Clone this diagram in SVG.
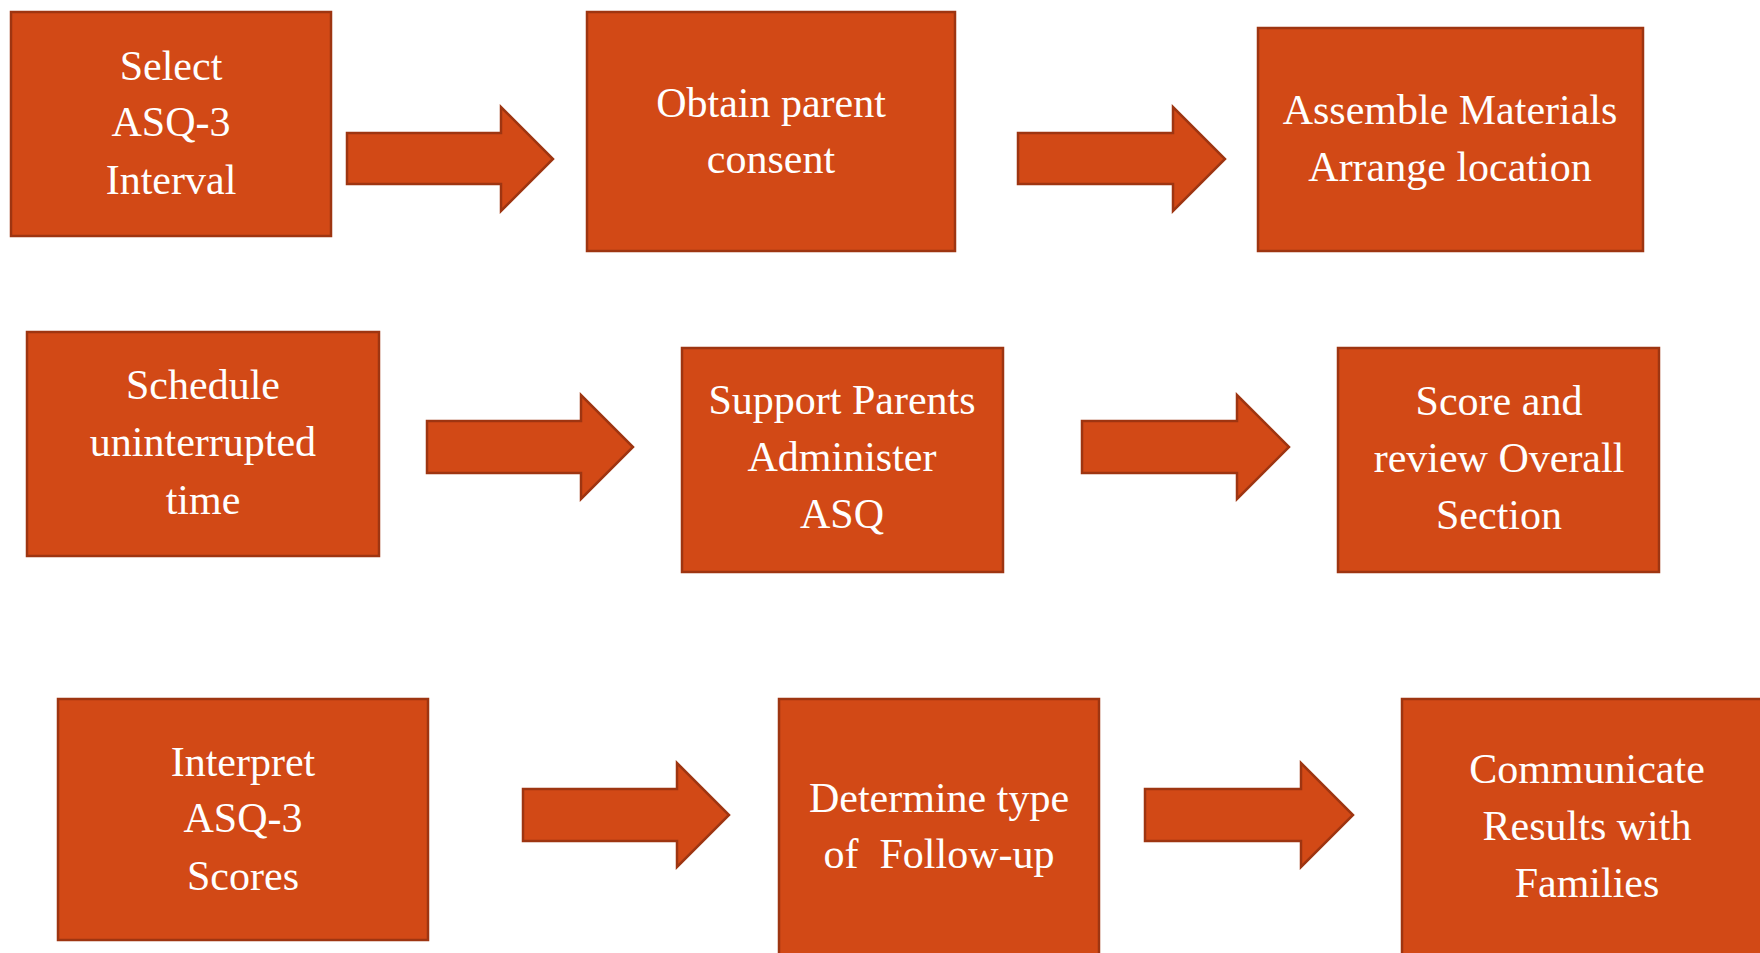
<svg xmlns="http://www.w3.org/2000/svg" width="1760" height="953" viewBox="0 0 1760 953">
<style>
.box{fill:#D24916;stroke:#9E3511;stroke-width:2.5}
.arr{fill:#D24916;stroke:#9E3511;stroke-width:2.5;stroke-linejoin:miter}
.t{fill:#FFFFFF;font-family:"Liberation Serif","DejaVu Serif",serif;font-size:42px;text-anchor:middle;white-space:pre}
</style>
<rect width="1760" height="953" fill="#FFFFFF"/>
<g id="connectors">
<polygon class="arr" points="347,133 501,133 501,107 553,159 501,211 501,184 347,184"/>
<polygon class="arr" points="1018,133 1173,133 1173,107 1225,159 1173,211 1173,184 1018,184"/>
<polygon class="arr" points="427,421 581,421 581,395 633,447 581,499 581,473 427,473"/>
<polygon class="arr" points="1082,421 1237,421 1237,395 1289,447 1237,499 1237,473 1082,473"/>
<polygon class="arr" points="523,789 677,789 677,763 729,815 677,867 677,841 523,841"/>
<polygon class="arr" points="1145,789 1301,789 1301,763 1353,815 1301,867 1301,841 1145,841"/>
</g>
<g id="n1"><rect class="box" x="11" y="12" width="320" height="224"/>
<text class="t" x="171" y="80">Select</text><text class="t" x="171" y="136">ASQ-3</text><text class="t" x="171" y="194">Interval</text></g>
<g id="n2"><rect class="box" x="587" y="12" width="368" height="239"/>
<text class="t" x="771" y="117">Obtain parent</text><text class="t" x="771" y="173">consent</text></g>
<g id="n3"><rect class="box" x="1258" y="28" width="385" height="223"/>
<text class="t" x="1450" y="124">Assemble Materials</text><text class="t" x="1450" y="181">Arrange location</text></g>
<g id="n4"><rect class="box" x="27" y="332" width="352" height="224"/>
<text class="t" x="203" y="399">Schedule</text><text class="t" x="203" y="456">uninterrupted</text><text class="t" x="203" y="514">time</text></g>
<g id="n5"><rect class="box" x="682" y="348" width="321" height="224"/>
<text class="t" x="842" y="414">Support Parents</text><text class="t" x="842" y="471">Administer</text><text class="t" x="842" y="528">ASQ</text></g>
<g id="n6"><rect class="box" x="1338" y="348" width="321" height="224"/>
<text class="t" x="1499" y="415">Score and</text><text class="t" x="1499" y="472">review Overall</text><text class="t" x="1499" y="529">Section</text></g>
<g id="n7"><rect class="box" x="58" y="699" width="370" height="241"/>
<text class="t" x="243" y="776">Interpret</text><text class="t" x="243" y="832">ASQ-3</text><text class="t" x="243" y="890">Scores</text></g>
<g id="n8"><rect class="box" x="779" y="699" width="320" height="264"/>
<text class="t" x="939" y="812">Determine type</text><text class="t" x="939" y="868" xml:space="preserve">of  Follow-up</text></g>
<g id="n9"><rect class="box" x="1402" y="699" width="370" height="264"/>
<text class="t" x="1587" y="783">Communicate</text><text class="t" x="1587" y="840">Results with</text><text class="t" x="1587" y="897">Families</text></g>
</svg>
